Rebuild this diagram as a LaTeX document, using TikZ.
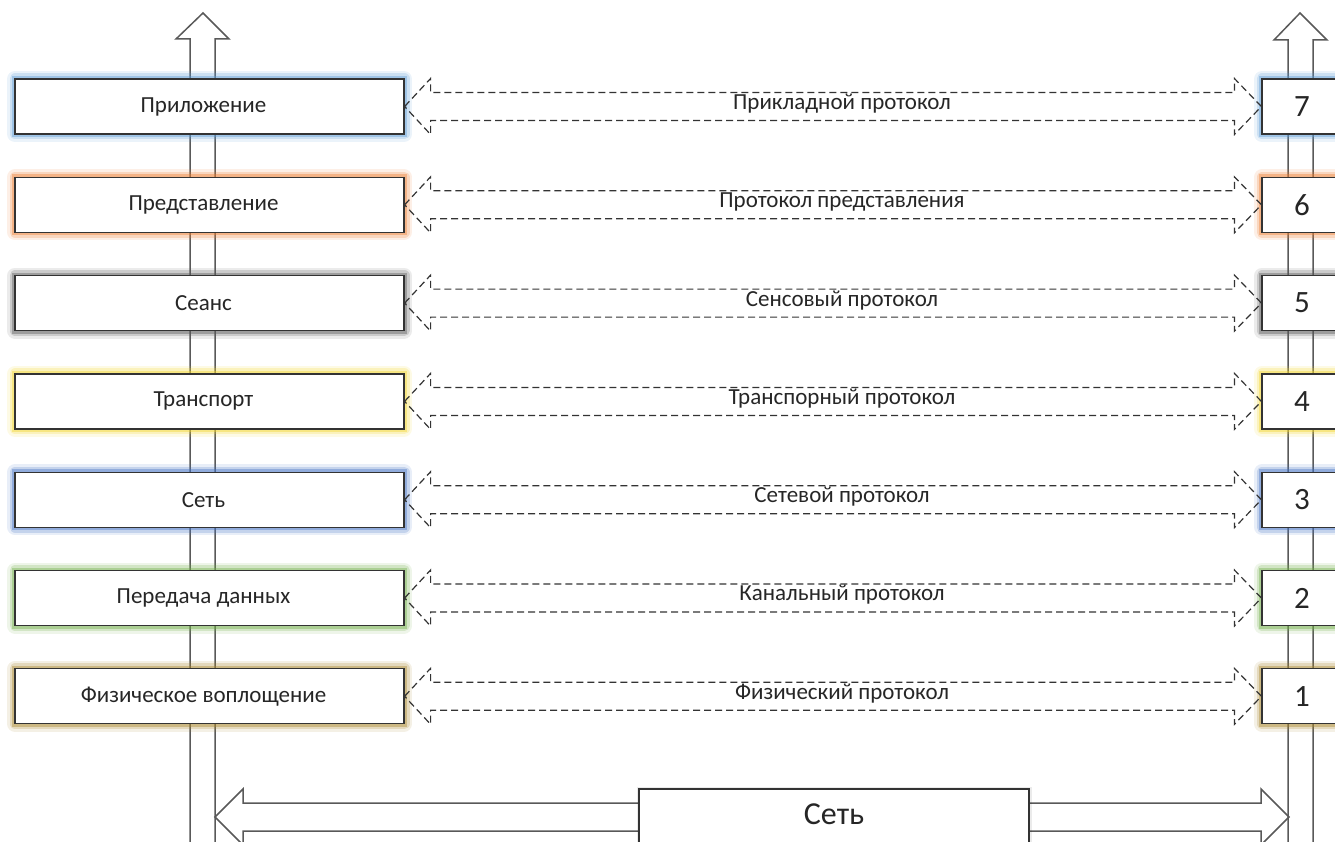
\documentclass[tikz,border=0pt]{standalone}
\usepackage{fontspec}
\setmainfont{Carlito}
\usetikzlibrary{calc}
\definecolor{cApp}{HTML}{5B9BD5}
\definecolor{cPres}{HTML}{ED7D31}
\definecolor{cSess}{HTML}{595959}
\definecolor{cTrans}{HTML}{F2D52A}
\definecolor{cNet}{HTML}{4472C4}
\definecolor{cLink}{HTML}{70AD47}
\definecolor{cPhys}{HTML}{A8862C}
\tikzset{
	layer/.style={draw=black!80, line width=1.2pt, fill=white, inner sep=0pt, minimum height=55pt,
		preaction={draw=#1, line width=16pt, draw opacity=0.12, line join=round},
		preaction={draw=#1, line width=11pt, draw opacity=0.22, line join=round},
		preaction={draw=#1, line width=6pt, draw opacity=0.4}},
	every label/.style={text=black!85, font=\fontsize{23}{27}\selectfont},
	plabel/.style={text=black!85, font=\fontsize{23}{27}\selectfont},
	proto/.style={draw=black!80, dash pattern=on 7pt off 4pt, line width=1.2pt},
	shaft/.style={draw=black!65, line width=1.5pt},
}
\begin{document}
\begin{tikzpicture}[x=1pt,y=-1pt]
			\useasboundingbox (0,0) rectangle (1335,842);
			\clip (0,0) rectangle (1335,842);
			% vertical shafts
			\draw[shaft] (190,860) -- (190,39) -- (176,39) -- (203,13) -- (229,39) -- (215,39) -- (215,860);
			\draw[shaft] (1288,860) -- (1288,40) -- (1274,40) -- (1300,13) -- (1327,40) -- (1313,40) -- (1313,860);
			% network
			\draw[shaft] (215,817) -- (243,789) -- (243,803) -- (1261,803) -- (1261,789) -- (1289,817)
				-- (1261,845) -- (1261,831) -- (243,831) -- (243,845) -- cycle;
			\node[draw=black!80, line width=1.2pt, fill=white, inner sep=0pt, minimum width=390pt, minimum height=80pt,
				preaction={draw=black, line width=5pt, draw opacity=0.08},
				label={[yshift=15pt, font=\fontsize{32}{38}\selectfont]center:Сеть}] (lan) at (834,829) {};
			%
			\def\list {7/Приложение/cApp/Прикладной протокол, 6/Представление/cPres/Протокол представления,
				5/Сеанс/cSess/Сенсовый протокол, 4/Транспорт/cTrans/Транспорный протокол,
				3/Сеть/cNet/Сетевой протокол, 2/Передача данных/cLink/Канальный протокол,
				1/Физическое воплощение/cPhys/Физический протокол}  % list elements
			\foreach \n/\txt/\col/\prot in \list
			{	\pgfmathsetmacro\y{106.5+98.3*(7-\n)}
				\node[layer=\col, minimum width=389pt, label={[xshift=-6pt]center:\txt}] (l\n) at (209.5,\y) {};
				\node[layer=\col, minimum width=80pt, text=black!85, font=\fontsize{31}{36}\selectfont] (r\n) at (1302,\y) {\n};
				\draw[proto] (l\n.east) -- ++(26,-28) -- ++(0,14) -- ($(r\n.west)+(-27,-14)$) -- ++(0,-14) -- (r\n.west)
					-- ++(-27,28) -- ++(0,-14) -- ($(l\n.east)+(26,14)$) -- ++(0,14) -- cycle;
				\node[plabel] (p\n) at ($(l\n.east)!0.5!(r\n.west)+(9,-3)$) {\prot};
			}
\end{tikzpicture}
\end{document}
